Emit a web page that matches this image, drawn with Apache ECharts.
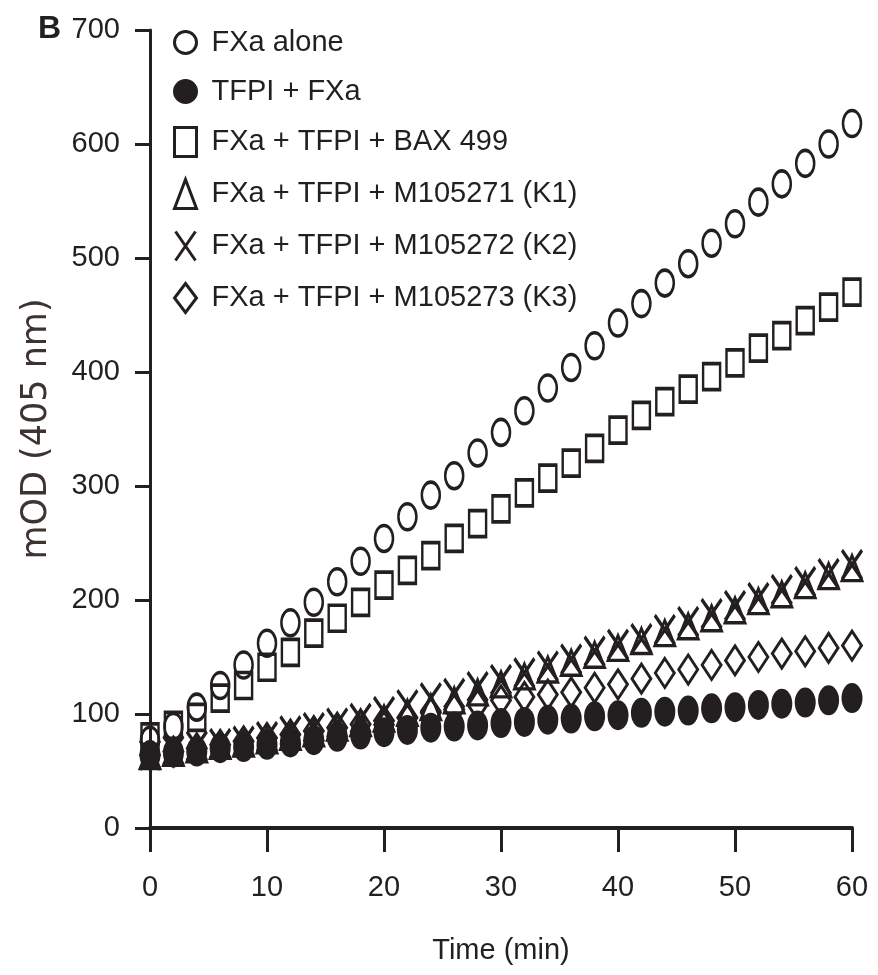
<!DOCTYPE html>
<html>
<head>
<meta charset="utf-8">
<script src="https://cdn.jsdelivr.net/npm/echarts@6/dist/echarts.min.js"></script>
<style>
  html, body { margin: 0; padding: 0; background: #ffffff; }
  #chart { width: 878px; height: 975px; }
</style>
</head>
<body>
<div id="chart"></div>
<script>
// ---- data ----
const timeMin = [0, 2, 4, 6, 8, 10, 12, 14, 16, 18, 20, 22, 24, 26, 28, 30, 32, 34, 36, 38, 40, 42, 44, 46, 48, 50, 52, 54, 56, 58, 60];
const seriesNames = [
  'FXa alone',
  'TFPI + FXa',
  'FXa + TFPI + BAX 499',
  'FXa + TFPI + M105271 (K1)',
  'FXa + TFPI + M105272 (K2)',
  'FXa + TFPI + M105273 (K3)'
];
const fxaAlone = [77, 89, 106, 125, 143, 162, 180, 198, 216, 234, 254, 273, 292, 309, 329, 347, 366, 386, 404, 423, 443, 460, 478, 495, 513, 530, 549, 565, 583, 600, 618];
const tfpiFxa  = [64, 66, 67, 70, 71, 73, 75, 77, 80, 82, 84, 86, 88, 89, 90, 92, 93, 95, 96, 98, 99, 101, 102, 103, 105, 106, 108, 109, 110, 112, 114];
const bax499   = [80, 90, 97, 114, 125, 141, 154, 171, 184, 198, 213, 226, 239, 254, 267, 280, 294, 307, 320, 333, 349, 362, 374, 385, 396, 408, 421, 432, 445, 457, 470];
const k1       = [63, 66, 69, 72, 74, 77, 80, 83, 88, 92, 96, 101, 106, 112, 119, 126, 133, 139, 145, 152, 158, 164, 171, 177, 184, 191, 199, 205, 213, 221, 228];
const k2       = [64, 68, 72, 74, 76, 80, 85, 88, 92, 96, 102, 108, 114, 118, 124, 130, 136, 142, 148, 155, 161, 166, 174, 181, 188, 195, 202, 209, 216, 223, 231];
const k3       = [64, 67, 70, 73, 76, 79, 82, 85, 88, 91, 94, 97, 101, 104, 108, 112, 115, 117, 119, 123, 126, 131, 136, 139, 143, 147, 150, 153, 155, 158, 160];
const xTicks = { min: 0, max: 60, interval: 10 };
const yTicks = { min: 0, max: 700, interval: 100 };

// ---- styling ----
const INK = '#231f20';
const SANS = "'Liberation Sans', Arial, sans-serif";
const FS = 29;
const pair = (xs, ys) => xs.map((x, i) => [x, ys[i]]);
const X_PATH = 'path://M0,0 L20,29 M20,0 L0,29';

function scatter(name, data, symbol, size, filled, bw) {
  return {
    name: name,
    type: 'scatter',
    data: pair(timeMin, data),
    symbol: symbol,
    symbolSize: size,
    symbolKeepAspect: false,
    clip: false,
    itemStyle: {
      color: filled ? INK : 'rgba(255,255,255,0)',
      borderColor: INK,
      borderWidth: bw,
      opacity: 1
    },
    emphasis: { disabled: true }
  };
}

const chart = echarts.init(document.getElementById('chart'), null, { renderer: 'canvas' });
chart.setOption({
  animation: false,
  backgroundColor: '#ffffff',
  title: {
    text: 'B',
    left: 33,
    top: 8,
    textStyle: { fontFamily: SANS, fontWeight: 'bold', fontSize: 32, color: INK }
  },
  grid: { left: 150, right: 26, top: 30, bottom: 147, containLabel: false },
  legend: {
    orient: 'vertical',
    left: 168,
    top: 23,
    itemWidth: 22,
    itemHeight: 29,
    itemGap: 20,
    data: seriesNames,
    selectedMode: false,
    itemStyle: { borderWidth: 3, opacity: 1 },
    textStyle: { fontFamily: SANS, fontSize: FS, color: INK, padding: [0, 0, 0, 10] }
  },
  xAxis: {
    type: 'value',
    min: xTicks.min, max: xTicks.max, interval: xTicks.interval,
    name: 'Time (min)',
    nameLocation: 'middle',
    nameGap: 108,
    nameTextStyle: { fontFamily: SANS, fontSize: FS, color: INK },
    axisLine: { lineStyle: { color: INK, width: 4 } },
    axisTick: { length: 24, lineStyle: { color: INK, width: 3 } },
    axisLabel: { fontFamily: SANS, fontSize: FS, color: INK, margin: 45 },
    splitLine: { show: false }
  },
  yAxis: {
    type: 'value',
    min: yTicks.min, max: yTicks.max, interval: yTicks.interval,
    name: 'mOD (405 nm)',
    nameLocation: 'middle',
    nameGap: 96,
    nameTextStyle: { fontFamily: "'DejaVu Sans'", fontSize: 35, color: '#3d3431' },
    axisLine: { lineStyle: { color: INK, width: 3 } },
    axisTick: { length: 15, lineStyle: { color: INK, width: 3 } },
    axisLabel: { fontFamily: SANS, fontSize: FS, color: INK, margin: 30 },
    splitLine: { show: false }
  },
  series: [
    scatter(seriesNames[0], fxaAlone, 'circle', [18, 26], false, 3),
    scatter(seriesNames[1], tfpiFxa, 'circle', [21, 30], true, 0),
    scatter(seriesNames[2], bax499, 'rect', [17, 26], false, 3),
    scatter(seriesNames[3], k1, 'triangle', [20, 25], false, 3),
    scatter(seriesNames[4], k2, X_PATH, [20, 29], false, 3.5),
    scatter(seriesNames[5], k3, 'diamond', [19, 29], false, 3)
  ]
});
</script>
</body>
</html>
